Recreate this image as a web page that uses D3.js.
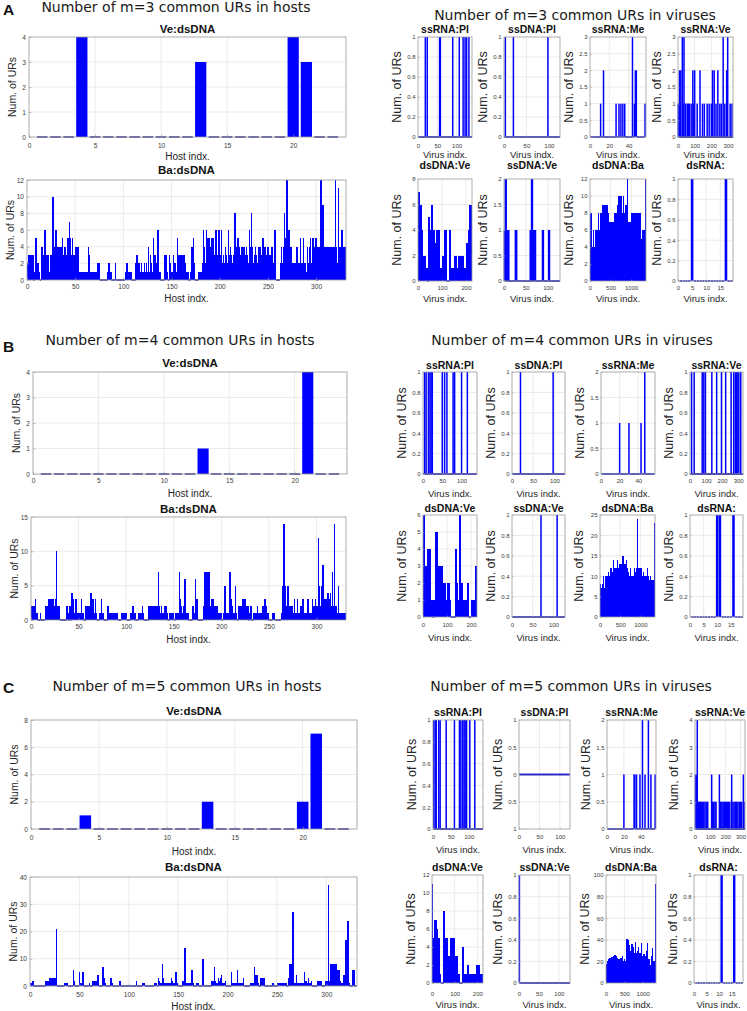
<!DOCTYPE html>
<html><head><meta charset="utf-8">
<script src="https://cdn.jsdelivr.net/npm/d3@7"></script>
<style>body{margin:0;background:#fff;}svg{display:block;}</style>
</head><body><div id="chart"></div>
<script>
// ---------------- DATA ----------------
const panelKeys = ["A","B","C"];
const motifLen = [3,4,5];

// Ve:dsDNA hosts (23 hosts)
const hostVeA = [0,0,0,4,0,0,0,0,0,0,0,0,3,0,0,0,0,0,0,4,3,0,0];
const hostVeB = [0,0,0,0,0,0,0,0,0,0,0,0,1,0,0,0,0,0,0,0,4,0,0];
const hostVeC = [0,0,0,1,0,0,0,0,0,0,0,0,2,0,0,0,0,0,0,2,7,0,0];
const hostVeTicks = [0,5,10,15,20];
const hostVeY = [[0,4,1],[0,4,1],[0,8,2]];

// Ba:dsDNA hosts (330 hosts)
const hostBaA = [
2,3,3,1,3,3,0,1,5,5, 2,2,1,0,4,4,3,6,6,3, 3,3,1,1,3,3,10,3,4,6, 4,4,4,3,4,4,5,3,4,4,
3,5,5,7,5,3,5,3,1,3, 4,1,4,1,1,1,1,1,1,1, 1,1,1,4,3,1,1,1,1,1, 1,1,2,2,2,0,0,0,0,0,
0,0,0,1,2,1,1,0,0,0, 0,2,0,0,0,0,0,0,0,0, 0,1,1,2,1,1,1,1,0,0, 0,0,2,3,2,1,2,1,2,1,
1,2,1,2,1,4,1,3,2,1, 5,2,3,2,1,6,1,1,0,0, 0,0,3,3,1,1,0,3,2,1, 1,3,2,2,1,5,3,3,3,3,
3,2,3,2,1,1,1,0,0,1, 4,4,5,2,0,0,0,1,1,1, 1,2,6,4,2,6,5,2,5,4, 2,5,5,3,2,6,2,3,6,2,
3,6,2,3,2,4,3,2,6,3, 4,3,2,3,1,8,1,4,5,4, 3,3,4,2,4,3,2,4,3,2, 6,4,8,4,2,3,4,3,2,4,
2,4,3,2,5,3,4,2,3,4, 2,3,2,4,3,2,6,6,0,0, 0,0,2,4,2,4,8,5,6,12, 4,6,2,4,2,2,2,2,2,4,
2,2,2,5,2,2,5,2,2,1, 4,2,4,5,2,5,5,2,4,5, 0,4,4,4,12,4,9,4,4,4, 4,4,4,4,4,4,4,4,4,12,
4,2,11,4,2,4,6,4,4,4];
const hostBaB = [
2,2,2,1,3,1,1,0,0,1, 0,0,0,0,2,2,2,2,3,3, 3,3,3,2,1,3,10,2,2,2, 0,0,0,0,0,0,0,2,1,0,
2,0,4,3,1,1,3,3,1,1, 1,1,3,1,1,0,0,2,2,2, 2,1,4,3,3,1,1,3,1,0, 0,1,1,3,1,1,0,0,0,0,
2,1,1,1,1,1,1,1,1,1, 1,0,0,0,1,1,1,1,1,1, 0,0,0,0,1,1,2,1,0,1, 0,0,1,1,1,1,2,1,0,0,
0,0,0,2,2,2,2,2,2,2, 2,2,2,7,2,1,2,1,1,1, 2,2,1,0,0,1,1,1,1,1, 0,1,1,1,1,7,3,2,1,2,
1,6,1,1,1,0,0,0,0,2, 2,1,6,3,3,0,0,0,0,0, 2,2,7,2,7,2,7,2,2,3, 2,3,2,2,2,2,1,1,1,1,
0,1,1,5,1,1,1,1,7,3, 2,2,1,1,5,1,0,2,2,2, 2,3,2,3,3,1,2,2,0,1, 2,0,0,1,1,1,1,2,1,1,
1,1,1,2,2,3,2,1,1,0, 0,0,0,1,1,1,0,0,0,0, 0,0,1,5,1,14,5,2,2,5, 2,2,2,2,2,1,3,1,1,3,
1,1,2,1,2,3,1,1,1,1, 3,1,1,1,1,3,2,2,3,2, 2,12,5,2,4,5,8,2,3,2, 3,4,3,3,4,2,7,2,14,2,
2,1,5,1,1,1,1,1,1,1];
const hostBaC = [
1,1,2,0,0,0,0,0,0,0, 0,0,0,0,0,2,2,2,1,3, 3,3,3,3,3,3,21,0,0,0, 0,0,0,0,1,1,1,1,0,0,
0,0,0,6,2,0,0,0,0,5, 1,1,5,5,0,0,0,0,0,1, 0,0,0,2,1,2,1,2,4,0, 0,0,0,7,3,1,0,0,0,0,
0,3,1,0,0,0,0,0,0,0, 2,0,0,0,0,0,0,0,0,0, 0,0,0,0,0,0,0,2,0,0, 0,0,0,1,1,1,0,0,0,0,
0,0,0,0,0,1,1,1,0,3, 2,1,1,8,3,1,1,1,1,1, 1,1,3,2,1,1,1,5,1,0, 0,0,0,0,2,2,14,1,1,1,
1,1,1,6,1,0,0,0,1,1, 0,0,0,0,10,0,0,0,0,0, 0,0,0,2,2,2,7,2,1,1, 3,2,3,4,1,1,1,2,0,0,
0,0,0,5,1,1,1,1,1,6, 1,1,1,1,1,3,0,0,0,0, 0,0,1,1,1,1,7,1,4,4, 1,0,0,3,3,3,3,0,0,0,
0,0,0,0,0,1,0,0,0,0, 1,1,1,1,1,1,1,1,1,0, 0,3,8,8,8,27,1,1,1,4, 1,1,1,1,1,1,1,5,2,2,
1,3,1,1,2,0,0,0,0,0, 2,2,2,2,2,0,0,0,2,2, 2,37,2,8,8,8,8,8,8,8, 1,6,6,2,1,1,1,4,2,17,
2,24,1,0,0,0,6,6,0,0];
const hostBaTicks = [0,50,100,150,200,250,300];
const hostBaY = [[0,12,2],[0,15,5],[0,40,10]];

// Virus groups
const virusNames = ["ssRNA:Pl","ssDNA:Pl","ssRNA:Me","ssRNA:Ve","dsDNA:Ve","ssDNA:Ve","dsDNA:Ba","dsRNA:"];
const virusCount = [139,124,57,329,224,127,1360,19];
const virusXMax = [140,125,58,330,225,128,1360,19.5];
const virusXTicks = [[0,50,100],[0,50,100],[0,20,40],[0,100,200,300],[0,100,200],[0,50,100],[0,500,1000],[0,5,10,15]];
const virusBin = [0,0,0,0,5,0,20,0]; // dense groups given as binned values
const virusYA = [[0,1,0.2],[0,1,0.2],[0,3,0.5],[0,3,0.5],[0,8,2],[0,2,0.5],[0,12,2],[0,1,0.2]];
const virusYB = [[0,1,0.2],[0,1,0.2],[0,2,0.5],[0,1,0.2],[0,6,1],[0,1,0.2],[0,25,5],[0,1,0.2]];
const virusYC = [[0,1,0.2],[-1,1,0.5],[0,2,0.5],[0,4,1],[0,12,2],[0,1,0.2],[0,100,20],[0,1,0.2]];

// m=3 viruses
const A_ssRNA_Pl = [[19,1],[24,1],[56,1],[58,1],[90,1],[107,1],[117,1],[122,1],[126,1],[132,1]];
const A_ssDNA_Pl = [[3,1],[21,1],[98,1]];
const A_ssRNA_Me = [[11,1],[14,2],[27,1],[30,1],[32,1],[34,1],[36,1],[44,3],[46,1],[47,2],[48,2],[57,1]];
const A_ssRNA_Ve = [[2,1],[4,1],[9,2],[12,1],[17,2],[26,3],[30,1],[36,3],[44,1],[47,1],[58,1],[62,1],[68,1],[79,1],[89,2],[95,1],[100,2],[115,1],[132,2],[147,1],[158,1],[175,1],[187,1],[200,1],[207,2],[217,2],[228,1],[239,2],[251,1],[260,1],[271,3],[281,1],[292,2],[298,3],[313,1],[324,1]];
const A_dsDNA_Ve = [7,5,6,4,2,2,1,1,0,5,4,6,4,4,3,4,1,4,1,1,2,2,4,4,0,0,4,1,1,1,2,2,1,1,2,2,2,2,1,1,3,3,4,6,6];
const A_ssDNA_Ve = [[1,1],[2,1],[3,2],[5,2],[7,1],[9,1],[11,1],[26,1],[29,1],[60,1],[63,2],[65,2],[67,1],[70,1],[72,1],[88,1],[90,1],[102,1],[104,1]];
const A_dsDNA_Ba = [5,8,4,4,6,4,6,5,6,4, 8,6,8,8,8,9,8,9,8,9, 8,9,8,7,7,7,7,7,7,7, 8,8,8,9,9,10,8,10,9,8, 10,8,7,9,8,12,7,7,7,7, 8,8,8,8,8,8,8,8,6,8, 8,6,5,6,6,5,6,12];
const A_dsRNA = [[5,1],[17,1]];

// m=4 viruses
const B_ssRNA_Pl = [[4,1],[8,1],[14,1],[18,1],[21,1],[24,1],[50,1],[56,1],[62,1],[78,1],[82,1],[100,1],[115,1]];
const B_ssDNA_Pl = [[20,1],[97,1]];
const B_ssRNA_Me = [[20,1],[30,1],[43,1],[47,2]];
const B_ssRNA_Ve = [[10,1],[26,1],[76,1],[86,1],[96,1],[136,1],[166,1],[196,1],[222,1],[256,1],[272,1],[282,1],[290,1],[298,1],[304,1],[316,1]];
const B_dsDNA_Ve = [6,3,3,3,4,4,1,1,0,1,5,5,3,3,3,3,2,2,2,1,2,2,1,0,0,0,0,4,2,1,6,2,2,1,1,1,1,2,0,0,1,1,1,1,3];
const B_ssDNA_Ve = [[70,1],[109,1]];
const B_dsDNA_Ba = [8,7,7,8,10,7,10,10,8,10, 11,10,8,12,10,11,14,11,12,11, 12,14,12,10,13,12,13,11,15,13, 12,13,14,12,11,8,10,12,9,10, 8,10,12,11,10,12,24,8,12,12, 10,12,10,11,8,10,9,10,12,10, 8,9,10,8,9,9,8,23];
const B_dsRNA = [[10,1],[11,1],[16,1]];

// m=5 viruses
const C_ssRNA_Pl = [[2,1],[6,1],[9,1],[16,1],[20,1],[37,1],[60,1],[74,1],[78,1],[83,1],[87,1],[90,1],[94,1],[103,1],[117,1]];
const C_ssDNA_Pl = [];
const C_ssRNA_Me = [[20,1],[32,1],[33,1],[35,1],[39,1],[42,2],[45,1],[49,2],[52,1],[57,1]];
const C_ssRNA_Ve = [[3,2],[8,2],[15,4],[22,1],[28,1],[35,1],[42,1],[50,1],[58,1],[66,1],[75,1],[84,1],[110,2],[117,1],[124,1],[132,1],[139,1],[161,2],[166,1],[172,1],[178,1],[186,1],[193,1],[200,1],[208,1],[215,1],[222,1],[230,1],[242,2],[250,1],[258,1],[266,1],[275,1],[283,1],[292,1],[300,1],[308,1],[319,2],[324,1]];
const C_dsDNA_Ve = [11,5,7,7,6,5,5,1,0,0,8,5,5,5,3,3,5,5,4,5,3,3,3,1,0,0,0,4,1,1,1,2,1,1,1,1,1,1,1,2,2,2,1,1,1];
const C_ssDNA_Ve = [[1,1]];
const C_dsDNA_Ba = [10,18,20,22,22,23,21,24,22,24, 25,24,26,24,25,23,22,20,22,21, 23,22,25,20,18,22,20,25,41,38, 40,35,30,28,25,36,33,30,28,25, 38,28,25,30,33,25,28,24,37,25, 20,27,22,25,20,30,37,18,22,20, 17,18,25,32,18,20,18,92];
const C_dsRNA = [[11,1],[16,1]];

const virusData = [
  [A_ssRNA_Pl,A_ssDNA_Pl,A_ssRNA_Me,A_ssRNA_Ve,A_dsDNA_Ve,A_ssDNA_Ve,A_dsDNA_Ba,A_dsRNA],
  [B_ssRNA_Pl,B_ssDNA_Pl,B_ssRNA_Me,B_ssRNA_Ve,B_dsDNA_Ve,B_ssDNA_Ve,B_dsDNA_Ba,B_dsRNA],
  [C_ssRNA_Pl,C_ssDNA_Pl,C_ssRNA_Me,C_ssRNA_Ve,C_dsDNA_Ve,C_ssDNA_Ve,C_dsDNA_Ba,C_dsRNA]
];
const virusY = [virusYA, virusYB, virusYC];
const hostVe = [hostVeA, hostVeB, hostVeC];
const hostBa = [hostBaA, hostBaB, hostBaC];

// ---------------- LAYOUT ----------------
const layouts = [
 {letter:[3,15], hostTitle:[176,12], virusTitle:[575,20],
  hostVe:{box:[29,37,346,137], titleY:33, tickY:148, xlabelY:160},
  hostBa:{box:[27,180,346,280], titleY:174, tickY:289, xlabelY:302},
  vRows:[{xs:[[418,472],[504,560],[590,646],[678,733]], y:[37,137], titleY:33, tickY:148, xlabelY:158},
         {xs:[[418,472],[504,560],[590,646],[678,733]], y:[179,281], titleY:169, tickY:290, xlabelY:302}]},
 {letter:[3,352], hostTitle:[180,345], virusTitle:[572,345],
  hostVe:{box:[33,372,347,474], titleY:367, tickY:483, xlabelY:497},
  hostBa:{box:[31,517,346,620], titleY:513, tickY:629, xlabelY:643},
  vRows:[{xs:[[423,477],[512,565],[601,655],[690,743]], y:[372,474], titleY:369, tickY:483, xlabelY:497},
         {xs:[[423,477],[512,565],[600,655],[690,743]], y:[515,617], titleY:512, tickY:627, xlabelY:641}]},
 {letter:[3,693], hostTitle:[187,691], virusTitle:[571,691],
  hostVe:{box:[31,720,357,829], titleY:715, tickY:840, xlabelY:855},
  hostBa:{box:[30,877,357,986], titleY:871, tickY:997, xlabelY:1010},
  vRows:[{xs:[[433,483],[519,570],[607,656],[695,745]], y:[720,829], titleY:716, tickY:839, xlabelY:853},
         {xs:[[432,483],[519,570],[606,656],[694,743]], y:[875,983], titleY:871, tickY:996, xlabelY:1008}]}
];

// ---------------- DRAW ----------------
const BLUE="#0000ff", DASH="#2a2aa8", GRID="#e2e2e2", BOX="#9a9a9a", TICKC="#3a3a3a";
const FONT='"Liberation Sans", Arial, Helvetica, sans-serif';
const svg = d3.select("#chart").append("svg").attr("width",747).attr("height",1011);
svg.append("rect").attr("width",747).attr("height",1011).attr("fill","#fff");
const fmt = d3.format("~g");

function drawPlot(p){
  const [l,t,r,b] = p.box;
  const x = d3.scaleLinear().domain(p.xDom).range([l,r]);
  const y = d3.scaleLinear().domain(p.yDom).range([b,t]);
  const g = svg.append("g");
  g.append("g").selectAll("line").data(p.xTicks.filter(d=>d>p.xDom[0]&&d<p.xDom[1])).join("line")
    .attr("x1",d=>x(d)).attr("x2",d=>x(d)).attr("y1",t).attr("y2",b).attr("stroke",GRID).attr("stroke-width",0.7);
  g.append("g").selectAll("line").data(p.yTicks.filter(d=>d>p.yDom[0]+1e-9&&d<p.yDom[1]-1e-9)).join("line")
    .attr("y1",d=>y(d)).attr("y2",d=>y(d)).attr("x1",l).attr("x2",r).attr("stroke",GRID).attr("stroke-width",0.7);
  const ppu = x(1)-x(0);
  const bw = d => Math.max(d.w*ppu + p.extra, p.minW);
  const bars = p.series.filter(d=>d.v!==0);
  g.append("g").attr("shape-rendering", p.crisp ? "crispEdges" : "auto")
    .selectAll("rect").data(bars).join("rect")
    .attr("x",d=>x(d.i)-bw(d)/2).attr("width",bw)
    .attr("y",d=>y(d.v)).attr("height",d=>y(0)-y(d.v)).attr("fill",BLUE);
  const zeros = p.series.filter(d=>d.v===0);
  const zw = d => (ppu*d.w < 2 ? ppu*Math.max(d.w,1)+0.5 : ppu*Math.min(d.w,0.8));
  g.append("g").selectAll("line").data(zeros).join("line")
    .attr("x1",d=>x(d.i)-zw(d)/2).attr("x2",d=>x(d.i)+zw(d)/2)
    .attr("y1",y(0)).attr("y2",y(0)).attr("stroke",p.dashColor||DASH).attr("stroke-width",1.6);
  // axes
  const gx = g.append("g").attr("transform",`translate(0,${b})`)
    .call(d3.axisBottom(x).tickValues(p.xTicks).tickSize(-p.tickLen).tickFormat(fmt));
  gx.select(".domain").remove();
  gx.attr("font-family",FONT).attr("font-size",p.tickFs);
  gx.selectAll("line").attr("stroke",BOX).attr("stroke-width",0.6);
  gx.selectAll("text").attr("y",p.tickY-b).attr("dy",null).attr("fill",TICKC);
  const gy = g.append("g").attr("transform",`translate(${l},0)`)
    .call(d3.axisLeft(y).tickValues(p.yTicks).tickSize(-p.tickLen).tickPadding(p.yPad).tickFormat(p.yFmt||fmt));
  gy.select(".domain").remove();
  gy.attr("font-family",FONT).attr("font-size",p.tickFs);
  gy.selectAll("line").attr("stroke",BOX).attr("stroke-width",0.6);
  gy.selectAll("text").attr("fill",TICKC);
  g.append("rect").attr("x",l).attr("y",t).attr("width",r-l).attr("height",b-t)
    .attr("fill","none").attr("stroke",BOX).attr("stroke-width",0.8);
  // labels
  g.append("text").attr("x",(l+r)/2).attr("y",p.titleY).attr("text-anchor","middle")
    .attr("font-family",FONT).attr("font-weight","bold").attr("font-size",p.titleFs).attr("fill","#111").text(p.title);
  g.append("text").attr("x",(l+r)/2).attr("y",p.xlabelY).attr("text-anchor","middle")
    .attr("font-family",FONT).attr("font-size",p.xlabelFs).attr("fill","#262626").text(p.xlabel);
  g.append("text").attr("transform",`translate(${l-p.ylabelOff},${(t+b)/2}) rotate(-90)`).attr("text-anchor","middle")
    .attr("font-family",FONT).attr("font-size",p.ylabelFs).attr("fill","#262626").text("Num. of URs");
}

function yTicksOf(s){ return d3.range(s[0], s[1]+s[2]/2, s[2]); }

panelKeys.forEach((key,pi)=>{
  const L = layouts[pi];
  svg.append("text").attr("x",L.letter[0]).attr("y",L.letter[1]).attr("font-family",FONT)
    .attr("font-weight","bold").attr("font-size",15.5).attr("fill","#111").text(key);
  svg.append("text").attr("x",L.hostTitle[0]).attr("y",L.hostTitle[1]).attr("text-anchor","middle")
    .attr("font-family",'"DejaVu Sans", Verdana, sans-serif').attr("font-size",14).attr("fill","#1a1a1a")
    .text(`Number of m=${motifLen[pi]} common URs in hosts`);
  svg.append("text").attr("x",L.virusTitle[0]).attr("y",L.virusTitle[1]).attr("text-anchor","middle")
    .attr("font-family",'"DejaVu Sans", Verdana, sans-serif').attr("font-size",14).attr("fill","#1a1a1a")
    .text(`Number of m=${motifLen[pi]} common URs in viruses`);

  // host Ve:dsDNA
  const hv = L.hostVe, hvy = hostVeY[pi];
  drawPlot({box:hv.box, xDom:[0,24], yDom:[hvy[0],hvy[1]], xTicks:hostVeTicks, yTicks:yTicksOf(hvy),
    series: hostVe[pi].map((v,k)=>({i:k+1, v, w:0.85})), extra:0, minW:1.5, dashColor:"#34349a",
    tickLen:2.5, tickFs:6.6, yPad:3, tickY:hv.tickY, title:"Ve:dsDNA", titleY:hv.titleY, titleFs:11.5,
    xlabel:"Host indx.", xlabelY:hv.xlabelY, xlabelFs:10, ylabelOff:13, ylabelFs:10.5});
  // host Ba:dsDNA
  const hb = L.hostBa, hby = hostBaY[pi];
  drawPlot({box:hb.box, xDom:[0,331], yDom:[hby[0],hby[1]], xTicks:hostBaTicks, yTicks:yTicksOf(hby),
    series: hostBa[pi].map((v,k)=>({i:k+1, v, w:1})), extra:0.5, minW:0, crisp:true,
    tickLen:2.5, tickFs:6.6, yPad:3, tickY:hb.tickY, title:"Ba:dsDNA", titleY:hb.titleY, titleFs:11.5,
    xlabel:"Host indx.", xlabelY:hb.xlabelY, xlabelFs:10, ylabelOff:13, ylabelFs:10.5});

  // viruses
  virusNames.forEach((name,gi)=>{
    const row = L.vRows[Math.floor(gi/4)], xs = row.xs[gi%4];
    const ys = virusY[pi][gi];
    const data = virusData[pi][gi];
    let series;
    if (virusBin[gi]) {
      const st = virusBin[gi];
      series = data.map((v,k)=>({i:k*st+st/2, v, w:st}));
    } else {
      const m = new Map(data.map(d=>[d[0],d[1]]));
      series = d3.range(1, virusCount[gi]+1).map(i=>({i, v:m.get(i)||0, w:0.8}));
    }
    drawPlot({box:[xs[0],row.y[0],xs[1],row.y[1]], xDom:[0,virusXMax[gi]], yDom:[ys[0],ys[1]],
      xTicks:virusXTicks[gi], yTicks:yTicksOf(ys), yFmt: ys[0]<0 ? (d=>fmt(Math.abs(d))) : fmt,
      series, extra: virusBin[gi] ? 0.7 : 0.4, minW: virusBin[gi] ? 0 : 1.5, crisp: !!virusBin[gi], dashColor:"#2323c0",
      tickLen:1.5, tickFs:6, yPad:2.5, tickY:row.tickY, title:name, titleY:row.titleY, titleFs:10.5,
      xlabel:"Virus indx.", xlabelY:row.xlabelY, xlabelFs:9.5, ylabelOff:17, ylabelFs:12.5});
  });
});
</script></body></html>
